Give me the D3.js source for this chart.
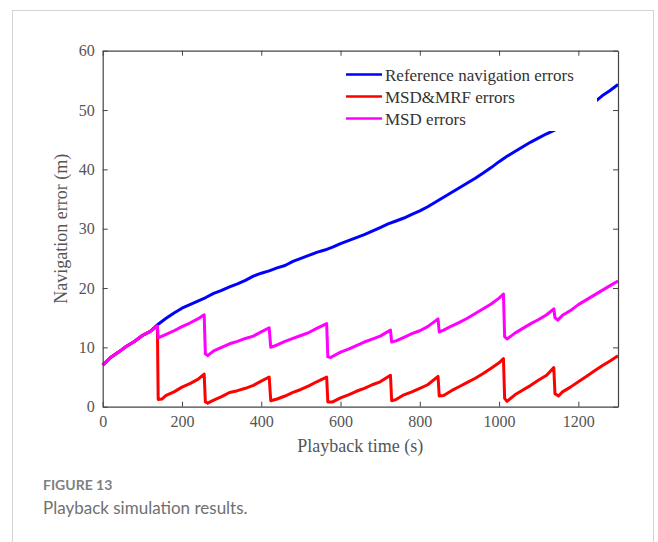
<!DOCTYPE html>
<html>
<head>
<meta charset="utf-8">
<script src="https://cdn.jsdelivr.net/npm/d3@7/dist/d3.min.js"></script>
<style>
  body { margin: 0; background: #fff; }
  svg { display: block; }
</style>
</head>
<body>
<svg width="658" height="542"></svg>
<script>
// playback time (s) and navigation error (m)
var refT = [0, 20, 40, 60, 80, 100, 120, 140, 160, 180, 200, 220, 240, 260, 280, 300, 320, 340, 360, 380, 400, 420, 440, 460, 480, 500, 520, 540, 560, 580, 600, 620, 640, 660, 680, 700, 720, 740, 760, 780, 800, 820, 840, 860, 880, 900, 920, 940, 960, 980, 1000, 1020, 1040, 1060, 1080, 1100, 1120, 1140, 1160, 1180, 1200, 1220, 1240, 1260, 1280, 1300];
var refV = [7.0, 8.3, 9.2, 10.2, 11.0, 12.0, 12.7, 13.9, 14.9, 15.8, 16.6, 17.2, 17.8, 18.4, 19.1, 19.6, 20.2, 20.7, 21.3, 22.0, 22.5, 22.9, 23.4, 23.8, 24.5, 25.0, 25.5, 26.0, 26.4, 26.9, 27.5, 28.0, 28.5, 29.0, 29.6, 30.2, 30.8, 31.3, 31.8, 32.4, 33.0, 33.7, 34.5, 35.3, 36.1, 36.9, 37.7, 38.5, 39.4, 40.3, 41.3, 42.2, 43.0, 43.8, 44.6, 45.3, 46.0, 46.6, 47.3, 48.2, 49.2, 50.2, 51.3, 52.4, 53.3, 54.3];

var msdT = [0, 20, 40, 60, 80, 100, 120, 138, 140, 160, 180, 200, 220, 240, 256, 259, 265, 280, 300, 320, 340, 360, 380, 400, 420, 424, 440, 460, 480, 500, 520, 540, 565, 568, 575, 600, 620, 640, 660, 680, 700, 726, 729, 740, 760, 780, 800, 820, 846, 849, 860, 880, 900, 920, 940, 960, 980, 1000, 1011, 1014, 1020, 1040, 1060, 1080, 1100, 1120, 1138, 1141, 1148, 1160, 1180, 1200, 1220, 1240, 1260, 1280, 1300];
var msdV = [7.0, 8.3, 9.2, 10.2, 11.0, 12.0, 12.7, 13.6, 11.6, 12.2, 12.8, 13.5, 14.1, 14.8, 15.5, 8.9, 8.6, 9.4, 10.0, 10.6, 11.0, 11.5, 11.9, 12.6, 13.3, 10.0, 10.4, 11.0, 11.5, 12.0, 12.5, 13.2, 14.0, 8.4, 8.3, 9.2, 9.7, 10.3, 10.9, 11.4, 11.9, 12.9, 10.9, 11.1, 11.7, 12.3, 12.8, 13.5, 14.8, 12.6, 12.9, 13.6, 14.2, 14.9, 15.7, 16.5, 17.3, 18.3, 19.0, 11.8, 11.4, 12.4, 13.2, 14.0, 14.7, 15.5, 16.5, 15.0, 14.6, 15.4, 16.2, 17.2, 18.0, 18.8, 19.6, 20.4, 21.2];

var mrfT = [0, 20, 40, 60, 80, 100, 120, 138, 140, 150, 160, 180, 200, 220, 240, 256, 259, 265, 280, 300, 320, 340, 360, 380, 400, 420, 424, 440, 460, 480, 500, 520, 540, 565, 568, 580, 600, 620, 640, 660, 680, 700, 726, 729, 740, 760, 780, 800, 820, 846, 849, 860, 880, 900, 920, 940, 960, 980, 1000, 1011, 1014, 1020, 1040, 1060, 1080, 1100, 1120, 1138, 1141, 1150, 1160, 1180, 1200, 1220, 1240, 1260, 1280, 1300];
var mrfV = [7.0, 8.3, 9.2, 10.2, 11.0, 12.0, 12.7, 13.6, 1.2, 1.3, 1.9, 2.5, 3.3, 3.9, 4.6, 5.5, 0.8, 0.6, 1.1, 1.7, 2.4, 2.7, 3.1, 3.6, 4.3, 5.0, 1.0, 1.3, 1.8, 2.4, 2.9, 3.5, 4.2, 5.0, 0.8, 0.8, 1.5, 2.0, 2.6, 3.1, 3.7, 4.2, 5.3, 1.0, 1.2, 2.0, 2.5, 3.1, 3.7, 5.1, 1.8, 1.9, 2.7, 3.4, 4.1, 4.8, 5.6, 6.5, 7.4, 8.1, 1.4, 0.9, 2.0, 2.8, 3.6, 4.5, 5.3, 6.6, 2.2, 1.8, 2.5, 3.3, 4.2, 5.1, 6.0, 6.9, 7.7, 8.6];

var xTicks = [0, 200, 400, 600, 800, 1000, 1200];
var yTicks = [0, 10, 20, 30, 40, 50, 60];
var names = ['Reference navigation errors', 'MSD&MRF errors', 'MSD errors'];
var colors = ['#0000ff', '#ff0000', '#ff00ff'];

var svg = d3.select('svg');
var serif = '"Liberation Serif", "Times New Roman", serif';
var sans = 'Lato, "Open Sans", sans-serif';

// card frame
svg.append('rect')
    .attr('x', 12.5).attr('y', 10.5)
    .attr('width', 641).attr('height', 560)
    .attr('fill', '#fff').attr('stroke', '#d4d4d4');

var pLeft = 102.7, pRight = 618, pTop = 50.7, pBottom = 406.7;
var x = d3.scaleLinear().domain([0, 1300]).range([pLeft, pRight]);
var y = d3.scaleLinear().domain([0, 60]).range([pBottom, pTop]);

var line = d3.line()
    .x(function (d) { return x(d[0]); })
    .y(function (d) { return y(d[1]); });

function pairs(t, v) {
    return t.map(function (d, i) { return [d, v[i]]; });
}

var series = [pairs(refT, refV), pairs(mrfT, mrfV), pairs(msdT, msdV)];

svg.append('g').selectAll('path')
    .data(series)
    .enter()
    .append('path')
    .attr('d', line)
    .attr('fill', 'none')
    .attr('stroke', function (d, i) { return colors[i]; })
    .attr('stroke-width', 3)
    .attr('stroke-linejoin', 'round');

// axes, ticks pointing inward
function styleAxis(g) {
    g.select('.domain').attr('stroke', '#444').attr('stroke-width', 1.2);
    g.selectAll('.tick line').attr('stroke', '#444');
    g.selectAll('.tick text')
        .attr('fill', '#555')
        .style('font-family', serif)
        .style('font-size', '16px');
}

svg.append('g')
    .attr('transform', 'translate(0,' + pBottom + ')')
    .call(d3.axisBottom(x).tickValues(xTicks).tickFormat(d3.format('d')).tickSize(-5).tickPadding(9).tickSizeOuter(0))
    .call(styleAxis);

svg.append('g')
    .attr('transform', 'translate(0,' + pTop + ')')
    .call(d3.axisTop(x).tickValues(xTicks).tickSize(-5).tickFormat('').tickSizeOuter(0))
    .call(styleAxis);

svg.append('g')
    .attr('transform', 'translate(' + pLeft + ',0)')
    .call(d3.axisLeft(y).tickValues(yTicks).tickSize(-5).tickPadding(8).tickSizeOuter(0))
    .call(styleAxis);

svg.append('g')
    .attr('transform', 'translate(' + pRight + ',0)')
    .call(d3.axisRight(y).tickValues(yTicks).tickSize(-5).tickFormat('').tickSizeOuter(0))
    .call(styleAxis);

// axis titles
svg.append('text')
    .attr('x', (pLeft + pRight) / 2).attr('y', 452)
    .attr('text-anchor', 'middle')
    .attr('fill', '#555')
    .style('font-family', serif).style('font-size', '18px')
    .text('Playback time (s)');

svg.append('text')
    .attr('transform', 'translate(67,' + (pTop + pBottom) / 2 + ') rotate(-90)')
    .attr('text-anchor', 'middle')
    .attr('fill', '#555')
    .style('font-family', serif).style('font-size', '18px')
    .text('Navigation error (m)');

// legend with white box
var legend = svg.append('g');
legend.append('rect')
    .attr('x', 340).attr('y', 60)
    .attr('width', 257).attr('height', 71)
    .attr('fill', '#fff');

var rows = legend.selectAll('g.row')
    .data(names)
    .enter()
    .append('g')
    .attr('class', 'row')
    .attr('transform', function (d, i) { return 'translate(0,' + (74.5 + i * 22) + ')'; });

rows.append('line')
    .attr('x1', 346).attr('x2', 382)
    .attr('stroke', function (d, i) { return colors[i]; })
    .attr('stroke-width', 2.5);

rows.append('text')
    .attr('x', 385).attr('y', 6)
    .attr('fill', '#333')
    .style('font-family', serif).style('font-size', '17px')
    .text(function (d) { return d; });

// caption
svg.append('text')
    .attr('x', 43).attr('y', 490)
    .attr('fill', '#808080')
    .style('font-family', sans).style('font-size', '14px').style('font-weight', 'bold')
    .text('FIGURE 13');

svg.append('text')
    .attr('x', 43).attr('y', 514)
    .attr('fill', '#707070')
    .style('font-family', sans).style('font-size', '17px')
    .text('Playback simulation results.');
</script>
</body>
</html>
